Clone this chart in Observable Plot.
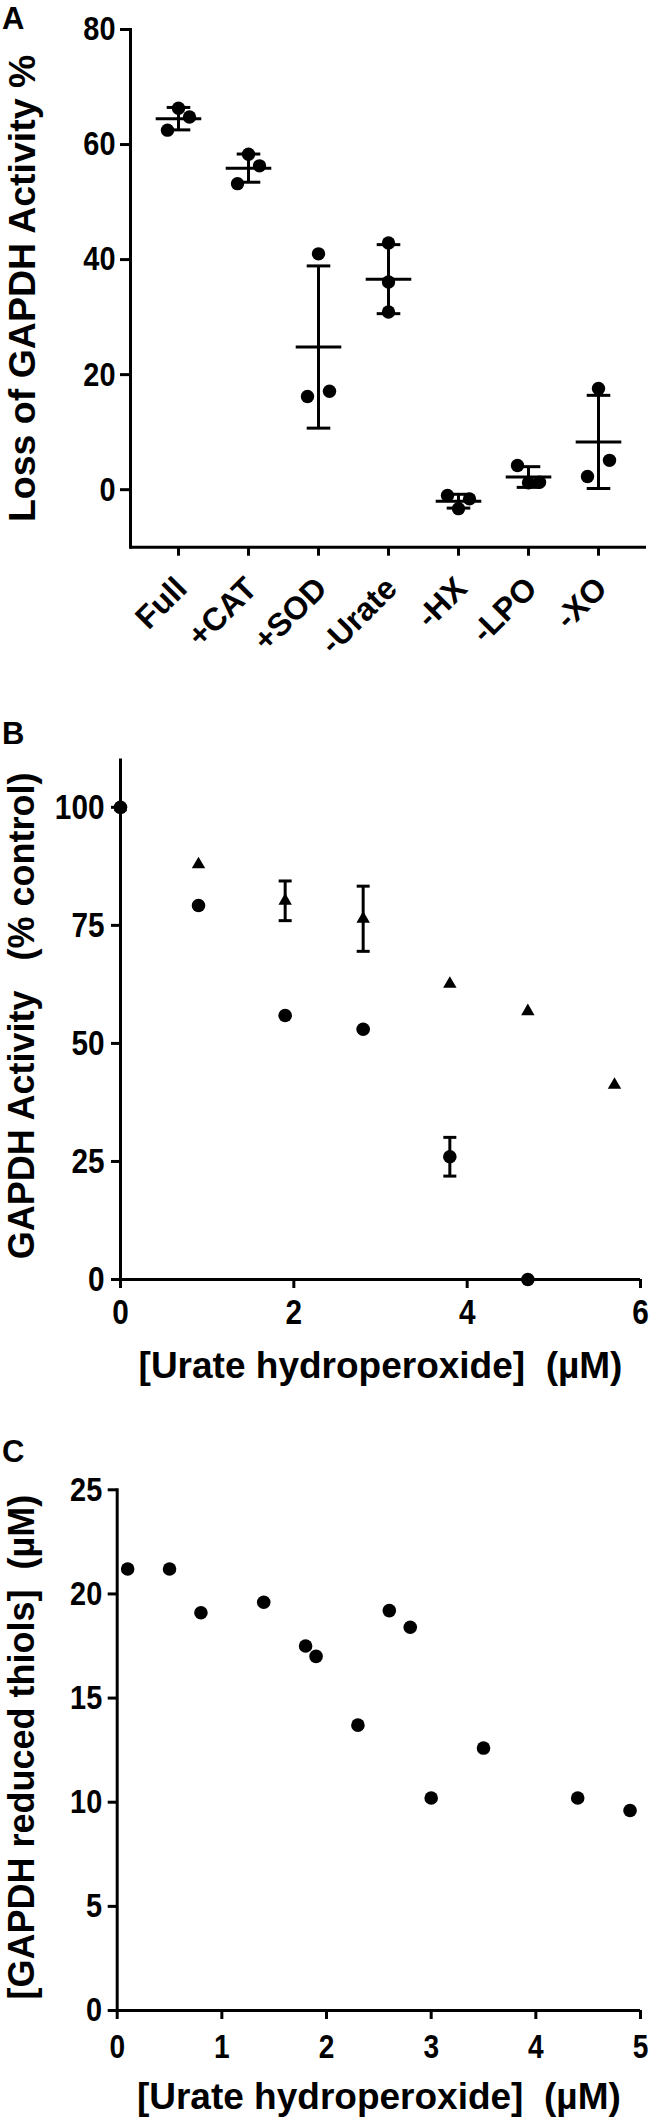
<!DOCTYPE html>
<html><head><meta charset="utf-8">
<script src="https://cdn.jsdelivr.net/npm/d3@7"></script>
<script src="https://cdn.jsdelivr.net/npm/@observablehq/plot@0.6"></script>
<style>
body{margin:0;background:#fff;font-family:"Liberation Sans",Arial,sans-serif;}
#wrap{position:relative;width:650px;height:2119px;overflow:hidden;background:#fff;}
.panel{position:absolute;left:0;z-index:1;}
.plabel{position:absolute;left:2px;font-weight:bold;font-size:31px;line-height:1;z-index:5;}
</style></head><body><div id="wrap">
<div class="plabel" style="top:3px">A</div>
<div class="plabel" style="top:718px">B</div>
<div class="plabel" style="top:1436px">C</div>
<div class="panel" id="pa" style="top:0px"></div>
<div class="panel" id="pb" style="top:700px"></div>
<div class="panel" id="pc" style="top:1440px"></div>
</div>
<script>
// ---------- Panel A data ----------
const categoriesA = ["Full", "+CAT", "+SOD", "-Urate", "-HX", "-LPO", "-XO"];
const replicatesA = [
  [66.3, 64.8, 62.5],
  [58.3, 56.3, 53.2],
  [41.0, 16.2, 17.1],
  [42.9, 36.1, 30.9],
  [-1.0, -1.6, -3.3],
  [4.2, 1.2, 1.3],
  [17.6, 5.1, 2.3]
];
const slotsA = [
  ["center", "right", "left"],
  ["center", "right", "left"],
  ["center", "left", "right"],
  ["center", "center", "center"],
  ["left", "right", "center"],
  ["left", "center", "right"],
  ["center", "right", "left"]
];
const meanA = [64.5, 55.9, 24.8, 36.6, -2.0, 2.2, 8.3];
const sdA = [1.95, 2.45, 14.1, 6.0, 1.2, 1.8, 8.1];
const yTicksA = [0, 20, 40, 60, 80];

// ---------- Panel B data ----------
const circleDoseB = [0, 0.9, 1.9, 2.8, 3.8, 4.7];
const circleValB = [100, 79.2, 55.9, 53.0, 26.0, 0];
const circleErrB = [0, 0, 0, 0, 4.1, 0];
const triangleDoseB = [0, 0.9, 1.9, 2.8, 3.8, 4.7, 5.7];
const triangleValB = [100, 87.9, 80.2, 76.4, 62.6, 56.8, 41.2];
const triangleErrB = [0, 0, 4.2, 6.9, 0, 0, 0];
const xTicksB = [0, 2, 4, 6];
const yTicksB = [0, 25, 50, 75, 100];

// ---------- Panel C data ----------
const doseC = [0.1, 0.5, 0.8, 1.4, 1.8, 1.9, 2.3, 2.6, 2.8, 3.0, 3.5, 4.4, 4.9];
const thiolsC = [21.2, 21.2, 19.1, 19.6, 17.5, 17.0, 13.7, 19.2, 18.4, 10.2, 12.6, 10.2, 9.6];
const xTicksC = [0, 1, 2, 3, 4, 5];
const yTicksC = [0, 5, 10, 15, 20, 25];

const FONT = "'Liberation Sans', Arial, sans-serif";
const baseStyle = {fontFamily: FONT, fontWeight: "bold", color: "black", background: "white", overflow: "visible"};
const hline = {draw(ctx, size) { const w = Math.sqrt(size / Math.PI); ctx.moveTo(-w, 0); ctx.lineTo(w, 0); }};
const SW = 3;
const fmt = d => String(d);

// narrow the numeric tick labels (condensed bold look of the original)
function condense(svg, factor) {
  svg.querySelectorAll('g[aria-label="y-axis tick label"] text, g[aria-label="x-axis tick label"] text').forEach(t => {
    if (t.closest('g[aria-label="x-axis tick label"]') && svg.dataset.cat === "1") return;
    const L = t.getComputedTextLength();
    if (L > 0) { t.setAttribute("textLength", (L * factor).toFixed(2)); t.setAttribute("lengthAdjust", "spacingAndGlyphs"); }
  });
}

// ---------- Panel A ----------
const pointsA = categoriesA.flatMap((c, i) => replicatesA[i].map((v, j) => ({cat: c, value: v, slot: slotsA[i][j]})));
const statsA = categoriesA.map((c, i) => ({cat: c, mean: meanA[i], lo: meanA[i] - sdA[i], hi: meanA[i] + sdA[i]}));
const slotDx = {left: -11, center: 0, right: 11};

const plotA = Plot.plot({
  width: 650, height: 680,
  marginTop: 29, marginBottom: 133.3, marginLeft: 130, marginRight: 4,
  style: baseStyle,
  x: {type: "point", domain: categoriesA, padding: 0.654},
  y: {domain: [-10, 80]},
  marks: [
    Plot.frame({anchor: "left", strokeWidth: SW}),
    Plot.ruleY([-10], {strokeWidth: SW}),
    Plot.axisY({ticks: yTicksA, tickFormat: fmt, tickSize: 10, tickPadding: 5, strokeWidth: SW, fontSize: 34, label: null}),
    Plot.axisX({text: null, tickSize: 9, strokeWidth: SW, label: null}),
    Plot.axisX({tickSize: 0, tickPadding: 36, tickRotate: -45, textAnchor: "end", lineAnchor: "middle", dx: 3, fontSize: 32, label: null}),
    Plot.text(["Loss of GAPDH Activity %"], {frameAnchor: "left", rotate: -90, textAnchor: "middle", dx: 34 - 130, lineAnchor: "bottom", fontSize: 37.5}),
    Plot.ruleX(statsA, {x: "cat", y1: "lo", y2: "hi", strokeWidth: SW}),
    Plot.dot(statsA, {x: "cat", y: "hi", symbol: hline, r: 11.8, stroke: "black", fill: "none", strokeWidth: SW}),
    Plot.dot(statsA, {x: "cat", y: "lo", symbol: hline, r: 11.8, stroke: "black", fill: "none", strokeWidth: SW}),
    ...["left", "center", "right"].map(s =>
      Plot.dot(pointsA.filter(d => d.slot === s), {x: "cat", y: "value", r: 6.7, fill: "black", stroke: "none", dx: slotDx[s]})),
    Plot.dot(statsA, {x: "cat", y: "mean", symbol: hline, r: 22.8, stroke: "black", fill: "none", strokeWidth: SW})
  ]
});
plotA.dataset.cat = "1";
document.getElementById("pa").appendChild(plotA);
condense(plotA, 0.85);

// ---------- Panel B ----------
const circlesB = circleDoseB.map((x, i) => ({x, y: circleValB[i], lo: circleValB[i] - circleErrB[i], hi: circleValB[i] + circleErrB[i], e: circleErrB[i]}));
const trianglesB = triangleDoseB.map((x, i) => ({x, y: triangleValB[i], lo: triangleValB[i] - triangleErrB[i], hi: triangleValB[i] + triangleErrB[i], e: triangleErrB[i]}));
const errB = circlesB.concat(trianglesB).filter(d => d.e > 0);

const plotB = Plot.plot({
  width: 650, height: 710,
  marginTop: 59.6, marginBottom: 131, marginLeft: 120, marginRight: 10,
  style: baseStyle,
  x: {domain: [0, 6]},
  y: {domain: [0, 110]},
  marks: [
    Plot.frame({anchor: "left", strokeWidth: SW}),
    Plot.ruleY([0], {strokeWidth: SW}),
    Plot.axisY({ticks: yTicksB, tickFormat: fmt, tickSize: 9, tickPadding: 7, strokeWidth: SW, fontSize: 35, label: null}),
    Plot.axisX({ticks: xTicksB, tickFormat: fmt, tickSize: 9, tickPadding: 11, strokeWidth: SW, fontSize: 35, label: null}),
    Plot.text(["GAPDH Activity\u00a0\u00a0\u00a0(% control)"], {frameAnchor: "left", rotate: -90, textAnchor: "middle", dx: 33 - 120, dy: -4, lineAnchor: "bottom", fontSize: 36}),
    Plot.text(["[Urate hydroperoxide]\u00a0\u00a0(µM)"], {frameAnchor: "bottom", dy: 98, lineAnchor: "bottom", fontSize: 37}),
    Plot.ruleX(errB, {x: "x", y1: "lo", y2: "hi", strokeWidth: SW}),
    Plot.dot(errB, {x: "x", y: "hi", symbol: hline, r: 6.5, stroke: "black", fill: "none", strokeWidth: SW}),
    Plot.dot(errB, {x: "x", y: "lo", symbol: hline, r: 6.5, stroke: "black", fill: "none", strokeWidth: SW}),
    Plot.dot(circlesB, {x: "x", y: "y", r: 6.8, fill: "black", stroke: "none"}),
    Plot.dot(trianglesB, {x: "x", y: "y", symbol: "triangle", r: 5, fill: "black", stroke: "none"})
  ]
});
document.getElementById("pb").appendChild(plotB);
condense(plotB, 0.85);

// ---------- Panel C ----------
const pointsC = doseC.map((x, i) => ({x, y: thiolsC[i]}));
const plotC = Plot.plot({
  width: 650, height: 679,
  marginTop: 49.3, marginBottom: 109, marginLeft: 116.7, marginRight: 10,
  style: baseStyle,
  x: {domain: [0, 5]},
  y: {domain: [0, 25]},
  marks: [
    Plot.frame({anchor: "left", strokeWidth: SW}),
    Plot.ruleY([0], {strokeWidth: SW}),
    Plot.axisY({ticks: yTicksC, tickFormat: fmt, tickSize: 9, tickPadding: 6, strokeWidth: SW, fontSize: 34, label: null}),
    Plot.axisX({ticks: xTicksC, tickFormat: fmt, tickSize: 9, tickPadding: 15, strokeWidth: SW, fontSize: 33, label: null}),
    Plot.text(["[GAPDH reduced thiols]\u00a0\u00a0(µM)"], {frameAnchor: "left", rotate: -90, textAnchor: "middle", dx: 33 - 116.7, dy: -3, lineAnchor: "bottom", fontSize: 36}),
    Plot.text(["[Urate hydroperoxide]\u00a0\u00a0(µM)"], {frameAnchor: "bottom", dy: 98, lineAnchor: "bottom", fontSize: 37}),
    Plot.dot(pointsC, {x: "x", y: "y", r: 6.8, fill: "black", stroke: "none"})
  ]
});
document.getElementById("pc").appendChild(plotC);
condense(plotC, 0.85);
</script>
</body></html>
